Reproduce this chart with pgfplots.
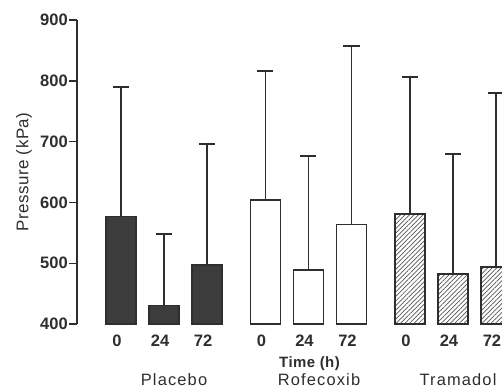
\documentclass[border=0pt]{standalone}
\usepackage{fontspec}
\setmainfont{Liberation Sans}
\usepackage{pgfplots}
\pgfplotsset{compat=1.18}
\usepackage{pgfplotstable}
\usetikzlibrary{patterns.meta}
\definecolor{ink}{HTML}{2E2E2E}
\definecolor{darkbar}{HTML}{3C3C3C}
\definecolor{hatch}{HTML}{555555}

\pgfplotstableread{
x y err
0 577 213
1 430 118
2 497 199
}\placebo
\pgfplotstableread{
x y err
3.36 604 212
4.36 489 188
5.36 564 293
}\rofecoxib
\pgfplotstableread{
x y err
6.72 581 225
7.72 482 198
8.72 494 286
}\tramadol

\begin{document}
\begin{tikzpicture}[x=1bp,y=1bp]
\path[use as bounding box] (-77,-65) rectangle (425,324);
\begin{axis}[
  at={(0,0)}, anchor=south west,
  width=425bp, height=304bp, scale only axis,
  xmin=-1.0233, xmax=8.86, ymin=400, ymax=900,
  y coord trafo/.code={\pgfmathparse{#1-400}},
  y coord inv trafo/.code={\pgfmathparse{#1+400}},
  axis x line*=bottom, axis y line*=left,
  x axis line style={draw=none}, xtick style={draw=none},
  y axis line style={ink, line width=1.5bp},
  ytick style={ink, line width=1.4bp},
  tick align=outside, major tick length=8bp,
  ytick={400,500,600,700,800,900},
  yticklabels={400,500,600,700,800,900},
  xtick={0,1,2,3.36,4.36,5.36,6.72,7.72,8.72},
  xticklabels={0,24,72,0,24,72,0,24,72},
  ticklabel style={font=\bfseries\fontsize{16.6}{19}\selectfont, text=ink},
  yticklabel style={inner xsep=1bp},
  xticklabel style={anchor=center, yshift=-8.5bp, xshift=-4bp},
  /pgf/number format/assume math mode=true,
  clip=true,
  error bars/y dir=plus, error bars/y explicit,
  error bars/error bar style={ink, line width=1.3bp, solid},
  error bars/error mark options={ink, line width=2bp, mark size=8bp, rotate=90},
]
\addplot[ybar, bar width=0.7, draw=ink, line width=1.3bp, fill=darkbar]
  table[x=x, y=y, y error=err] {\placebo};
\addplot[ybar, bar width=0.7, draw=ink, line width=1.3bp, fill=white]
  table[x=x, y=y, y error=err] {\rofecoxib};
\addplot[ybar, bar width=0.7, draw=ink, line width=1.3bp, fill=white,
  postaction={pattern={Lines[angle=45, distance=3.2bp, line width=0.7bp]}, pattern color=hatch}]
  table[x=x, y=y, y error=err] {\tramadol};
\end{axis}
\node[rotate=90, text=ink, inner sep=0pt, font=\fontsize{17}{19}\selectfont\addfontfeature{LetterSpace=3}] at (-53,152) {Pressure (kPa)};
\node[text=ink, inner sep=0pt, font=\bfseries\fontsize{15}{17}\selectfont\addfontfeature{LetterSpace=3}] at (232.5,-40) {Time (h)};
\node[text=ink, inner sep=0pt, font=\fontsize{16.5}{18}\selectfont\addfontfeature{LetterSpace=7}] at (97,-55.5) {Placebo};
\node[text=ink, inner sep=0pt, font=\fontsize{16.5}{18}\selectfont\addfontfeature{LetterSpace=7}] at (242,-55.5) {Rofecoxib};
\node[text=ink, inner sep=0pt, font=\fontsize{16.5}{18}\selectfont\addfontfeature{LetterSpace=7}] at (381,-55.5) {Tramadol};
\end{tikzpicture}
\end{document}
